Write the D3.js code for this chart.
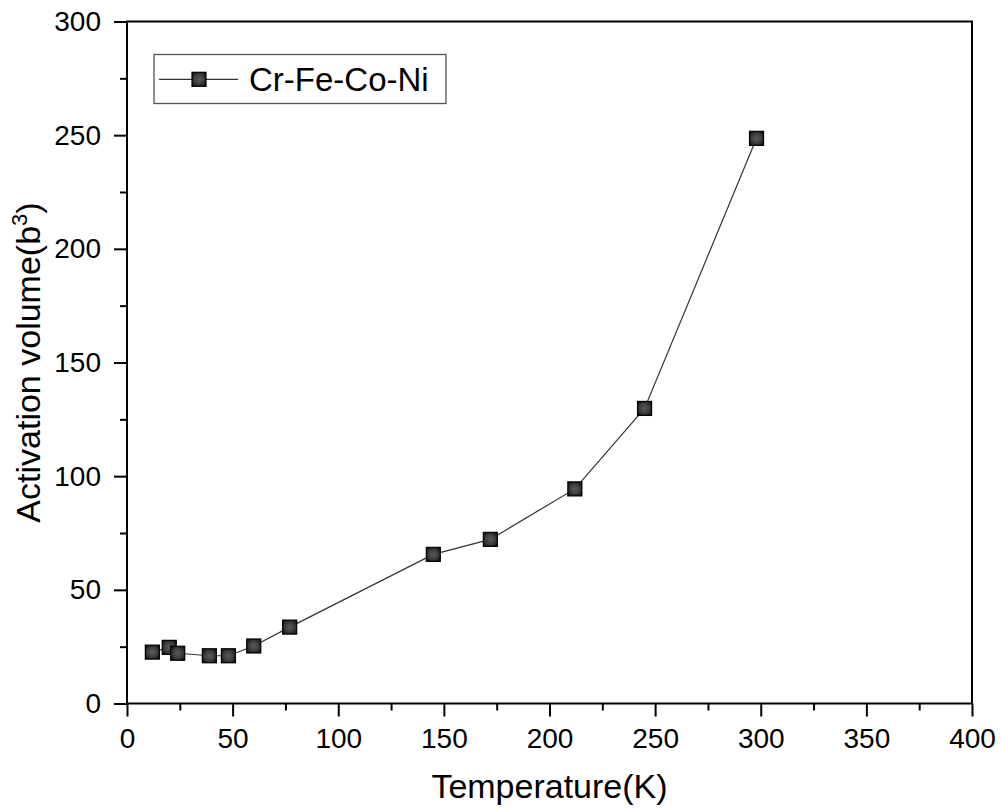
<!DOCTYPE html>
<html>
<head>
<meta charset="utf-8">
<script src="https://cdn.jsdelivr.net/npm/d3@7"></script>
<style>
  html, body { margin: 0; padding: 0; background: #fff; }
  svg { display: block; font-family: "Liberation Sans", Arial, sans-serif; }
</style>
</head>
<body>
<svg id="chart" width="1001" height="811"></svg>
<script>
// ---- data ----
const temperature = [12, 20, 24, 39, 48, 60, 77, 145, 172, 212, 245, 298];
const volume = [22.6, 24.7, 22.1, 21.0, 21.0, 25.3, 33.6, 65.6, 72.2, 94.4, 129.8, 248.6];
const seriesName = "Cr-Fe-Co-Ni";
const xMajorTicks = [0, 50, 100, 150, 200, 250, 300, 350, 400];
const xMinorTicks = [25, 75, 125, 175, 225, 275, 325, 375];
const yMajorTicks = [0, 50, 100, 150, 200, 250, 300];
const yMinorTicks = [25, 75, 125, 175, 225, 275];
const xTitle = "Temperature(K)";
const yTitle = "Activation volume(b";
const yTitleSup = "3";

// ---- layout ----
const L = 127, R = 972, T = 21.5, B = 703.5;
const svg = d3.select("#chart");

const x = d3.scaleLinear().domain([0, 400]).range([L, R]);
const y = d3.scaleLinear().domain([0, 300]).range([B, T]);

const defs = svg.append("defs");
const grad = defs.append("radialGradient").attr("id", "mk").attr("cx", "50%").attr("cy", "50%").attr("r", "60%");
grad.append("stop").attr("offset", "0%").attr("stop-color", "#5a5a5a");
grad.append("stop").attr("offset", "60%").attr("stop-color", "#3c3c3c");
grad.append("stop").attr("offset", "100%").attr("stop-color", "#151515");

// axes
function styleAxis(g) {
  g.select(".domain").remove();
  g.selectAll(".tick line").attr("stroke", "#000").attr("stroke-width", 2);
  g.selectAll(".tick text").attr("fill", "#000").style("font-size", "28px")
    .style("font-family", '"Liberation Sans", Arial, sans-serif');
}

svg.append("g").attr("transform", `translate(0,${B})`)
  .call(d3.axisBottom(x).tickValues(xMajorTicks).tickFormat(d3.format("d")).tickSize(13).tickPadding(12))
  .call(styleAxis);
svg.append("g").attr("transform", `translate(0,${B})`)
  .call(d3.axisBottom(x).tickValues(xMinorTicks).tickFormat("").tickSize(7))
  .call(styleAxis);

svg.append("g").attr("transform", `translate(${L},0)`)
  .call(d3.axisLeft(y).tickValues(yMajorTicks).tickFormat(d3.format("d")).tickSize(13).tickPadding(13))
  .call(styleAxis);
svg.append("g").attr("transform", `translate(${L},0)`)
  .call(d3.axisLeft(y).tickValues(yMinorTicks).tickFormat("").tickSize(7))
  .call(styleAxis);

// frame
svg.append("rect").attr("x", L).attr("y", T).attr("width", R - L).attr("height", B - T)
  .attr("fill", "none").attr("stroke", "#000").attr("stroke-width", 2);

// line
const pts = temperature.map((t, i) => [t, volume[i]]);
svg.append("path").datum(pts)
  .attr("fill", "none").attr("stroke", "#333").attr("stroke-width", 1.2)
  .attr("d", d3.line().x(d => x(d[0])).y(d => y(d[1])));

// markers
const ms = 14;
svg.append("g").selectAll("rect").data(pts).join("rect")
  .attr("x", d => x(d[0]) - ms / 2).attr("y", d => y(d[1]) - ms / 2)
  .attr("width", ms).attr("height", ms)
  .attr("fill", "url(#mk)").attr("stroke", "#000").attr("stroke-width", 1.2);

// legend
const lg = svg.append("g");
lg.append("rect").attr("x", 154).attr("y", 54.5).attr("width", 292).attr("height", 49)
  .attr("fill", "#fff").attr("stroke", "#555").attr("stroke-width", 1.3);
lg.append("line").attr("x1", 159).attr("x2", 238).attr("y1", 79.3).attr("y2", 79.3)
  .attr("stroke", "#333").attr("stroke-width", 1.2);
lg.append("rect").attr("x", 199 - ms / 2).attr("y", 79.3 - ms / 2).attr("width", ms).attr("height", ms)
  .attr("fill", "url(#mk)").attr("stroke", "#000").attr("stroke-width", 1.2);
lg.append("text").attr("x", 249).attr("y", 91).style("font-size", "33px").attr("fill", "#000").text(seriesName);

// axis titles
svg.append("text").attr("x", (L + R) / 2).attr("y", 798).attr("text-anchor", "middle")
  .style("font-size", "34px").attr("fill", "#000").text(xTitle);

const yt = svg.append("text").attr("transform", `translate(40,${(T + B) / 2}) rotate(-90)`)
  .attr("text-anchor", "middle").style("font-size", "34px").attr("fill", "#000");
yt.append("tspan").text(yTitle);
yt.append("tspan").attr("dy", -13).style("font-size", "22px").text(yTitleSup);
yt.append("tspan").attr("dy", 13).text(")");
</script>
</body>
</html>
